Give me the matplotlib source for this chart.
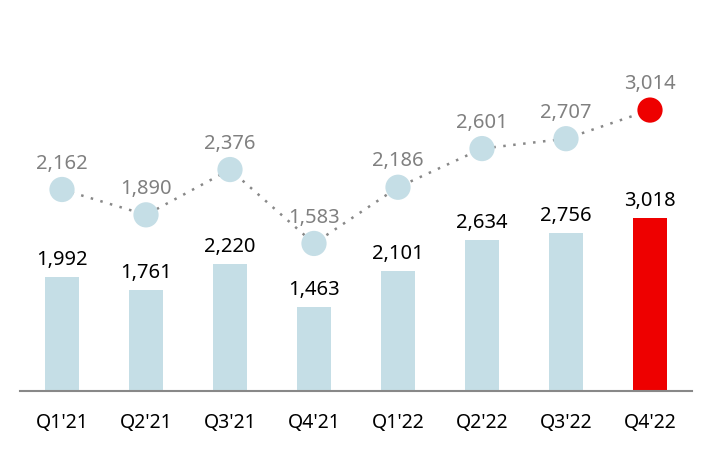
import matplotlib
matplotlib.use("Agg")
import matplotlib.pyplot as plt

# données
quarters = ["Q1'21", "Q2'21", "Q3'21", "Q4'21", "Q1'22", "Q2'22", "Q3'22", "Q4'22"]
bar_values = [1992, 1761, 2220, 1463, 2101, 2634, 2756, 3018]
line_values = [2162, 1890, 2376, 1583, 2186, 2601, 2707, 3014]

plt.rcParams['font.family'] = ['Noto Sans', 'DejaVu Sans']

blue = '#c5dee6'
red = '#ee0000'
colors = [blue] * (len(quarters) - 1) + [red]

fig = plt.figure(figsize=(7.14, 4.5), dpi=100)
ax = fig.add_axes([20 / 714, 59 / 450, 672 / 714, 391 / 450])
x = range(len(quarters))

# barres
ax.bar(x, bar_values, width=0.4, color=colors, zorder=2)
for i, v in enumerate(bar_values):
    ax.annotate(f"{v:,}", (i, v), xytext=(0, 8.5), textcoords='offset points',
                ha='center', va='baseline', fontsize=14.5, color='black')
ax.set_ylim(0, 6824)
ax.set_xlim(-0.5, len(quarters) - 0.5)

# courbe sur un second axe
ax2 = ax.twinx()
ax2.plot(x, line_values, linestyle=(0, (1, 3)), color='#888888', linewidth=1.8, zorder=1)
ax2.scatter(x, line_values, s=330, color=colors, zorder=3, edgecolors='none')
for i, v in enumerate(line_values):
    ax2.annotate(f"{v:,}", (i, v), xytext=(0, 15), textcoords='offset points',
                 ha='center', va='baseline', fontsize=14.5, color='#808080')
ax2.set_ylim(0, 4195)

for a in (ax, ax2):
    for s in ['top', 'right', 'left']:
        a.spines[s].set_visible(False)
    a.set_yticks([])
ax2.spines['bottom'].set_visible(False)
ax.spines['bottom'].set_color('#888888')
ax.spines['bottom'].set_linewidth(1.5)

ax.set_xticks(list(x))
ax.set_xticklabels(quarters, fontsize=14)
ax.tick_params(axis='x', length=0, pad=16)

fig.savefig('out.png', dpi=100)
